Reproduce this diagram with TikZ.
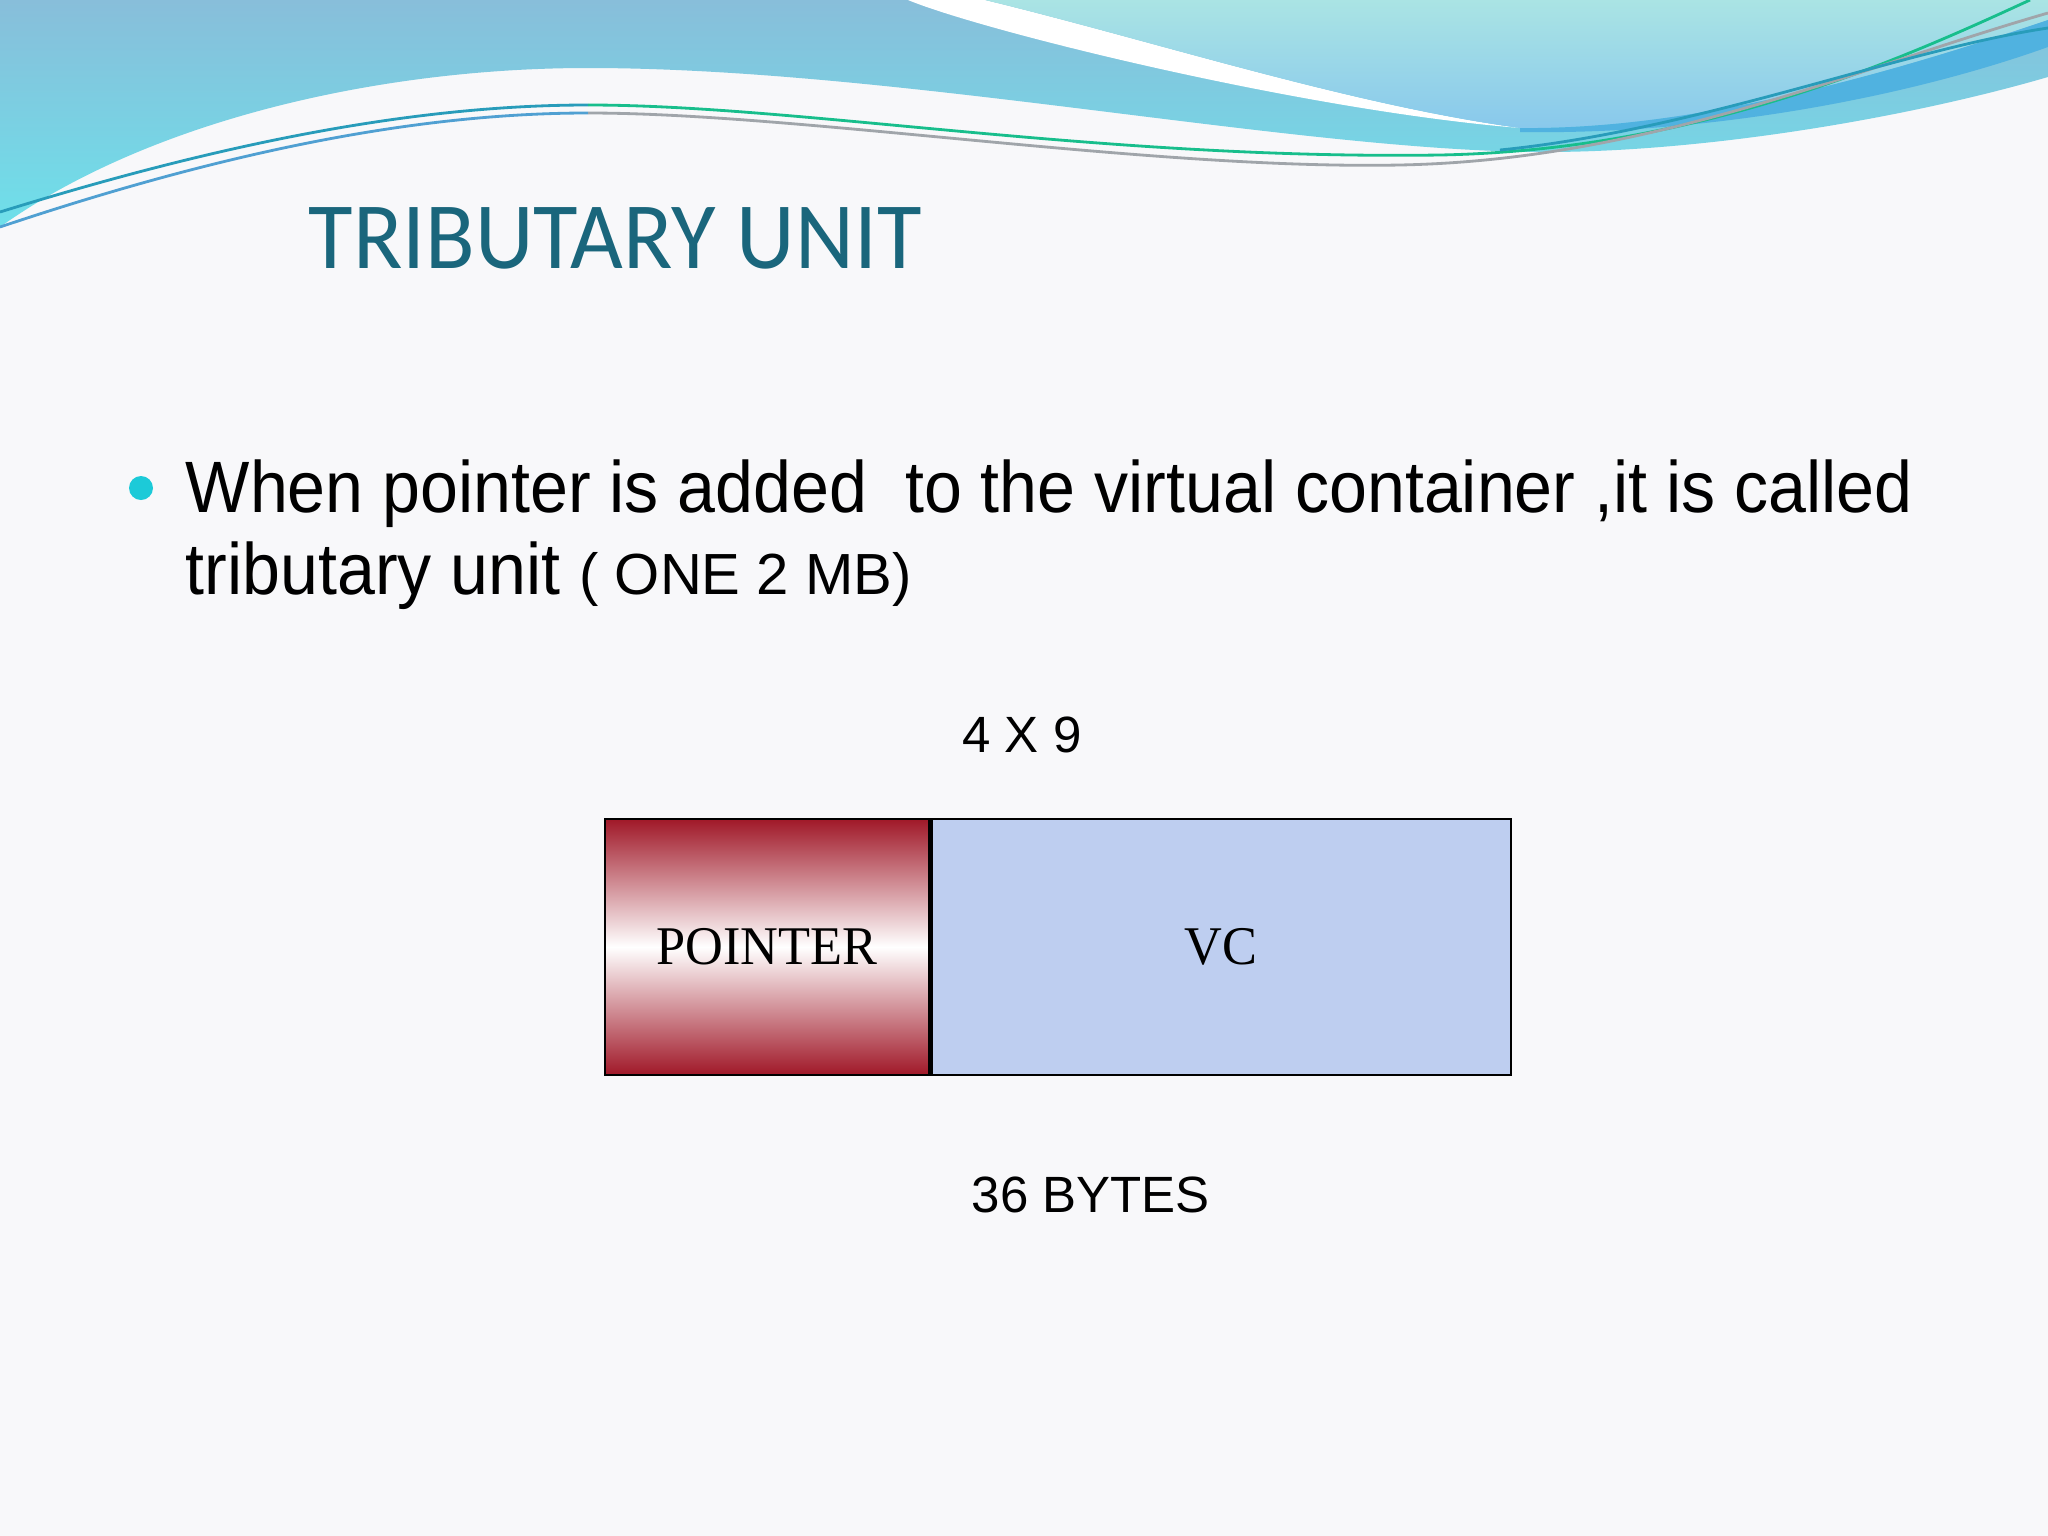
\documentclass[tikz,border=0pt]{standalone}
\usepackage{fontspec}
\setmainfont{Liberation Sans}
\newfontfamily\titlefont[FakeStretch=0.96]{Carlito}
\newfontfamily\bodyfont[FakeStretch=0.936]{Liberation Sans}
\newfontfamily\boxfont[FakeStretch=0.96]{Liberation Serif}
\usetikzlibrary{positioning}
\definecolor{slidebg}{RGB}{248, 248, 250}
\definecolor{wavetop}{RGB}{136, 190, 218}
\definecolor{wavelow}{RGB}{110, 224, 234}
\definecolor{paletop}{RGB}{170, 228, 228}
\definecolor{palelow}{RGB}{136, 200, 236}
\definecolor{waveband}{RGB}{80, 178, 224}
\definecolor{lineteal}{RGB}{40, 156, 186}
\definecolor{lineblue}{RGB}{80, 160, 210}
\definecolor{linegreen}{RGB}{24, 190, 140}
\definecolor{linegray}{RGB}{160, 165, 170}
\definecolor{titleteal}{RGB}{26, 102, 124}
\definecolor{bulletcyan}{RGB}{28, 202, 216}
\definecolor{ptrred}{RGB}{160, 24, 40}
\definecolor{vcblue}{RGB}{190, 206, 240}
\tikzset{
  wire/.style   = {line width=0.8pt},
  title/.style  = {anchor=base west, inner sep=0pt, text=titleteal, font=\titlefont\fontsize{27}{32}\selectfont},
  bodytxt/.style= {anchor=base west, inner sep=0pt, text=black, font=\bodyfont\fontsize{20.7}{25}\selectfont},
  small/.style  = {inner sep=0pt, text=black, font=\fontsize{14.5}{17}\selectfont},
  ptrbox/.style = {rectangle, draw=black, line width=0.7pt, top color=ptrred, bottom color=ptrred, middle color=white,
                   minimum width=3.24cm, minimum height=2.56cm, inner sep=0pt, font=\boxfont\fontsize{15.5}{18}\selectfont},
  vcbox/.style  = {rectangle, draw=black, line width=0.7pt, fill=vcblue,
                   minimum width=5.79cm, minimum height=2.56cm, inner sep=0pt, font=\boxfont\fontsize{15.5}{18}\selectfont}
}

\begin{document}
\begin{tikzpicture}[x=0.01cm, y=-0.01cm]

% slide background ========================
\useasboundingbox (0,0) rectangle (2048,1536);
\fill[slidebg] (0,0) rectangle (2048,1536);

% top wave
\shade[top color=wavetop, bottom color=wavelow]
  (0,0) -- (2048,0) -- (2048,77)
  .. controls (1900,120) and (1700,152) .. (1546,152)
  .. controls (1300,152) and (900,68) .. (588,68)
  .. controls (380,68) and (150,120) .. (0,227) -- cycle;
\fill[white] (908,0) .. controls (980,30) and (1300,110) .. (1520,128)
  .. controls (1350,105) and (1150,40) .. (985,0) -- cycle;
\shade[top color=paletop, bottom color=palelow]
  (985,0) .. controls (1150,40) and (1350,105) .. (1520,128)
  .. controls (1700,130) and (1900,70) .. (2048,20) -- (2048,0) -- cycle;
\fill[waveband] (1520,128) .. controls (1700,130) and (1900,70) .. (2048,20) -- (2048,47)
  .. controls (1900,100) and (1700,135) .. (1520,132) -- cycle;

% lines
\draw[wire, lineteal] (0,212) .. controls (200,150) and (400,105) .. (588,105);
\draw[wire, linegreen] (588,105) .. controls (800,105) and (1100,160) .. (1440,155)
  .. controls (1700,150) and (1900,60) .. (2030,0);
\draw[wire, lineblue] (0,227) .. controls (200,160) and (400,113) .. (588,113);
\draw[wire, linegray] (588,113) .. controls (800,113) and (1150,170) .. (1400,165)
  .. controls (1650,160) and (1850,70) .. (2048,13);
\draw[wire, lineteal] (1500,150) .. controls (1700,130) and (1900,50) .. (2048,28);

% texts
\node[title] (head) at (308,268) {TRIBUTARY UNIT};
\fill[bulletcyan] (141,488) circle (12);
\node[bodytxt] (line1) at (185,512) {When pointer is added\ \ to the virtual container ,it is called};
\node[bodytxt] (line2) at (185,594) {tributary unit {\fontspec{Liberation Sans}\fontsize{16.5}{20}\selectfont( ONE 2 MB)}};

% frame
\node[ptrbox] (ptr) at (767,947) {POINTER};
\node[vcbox, right=0pt of ptr] (vc) {VC};
\node[small] (dims) at (1022,735) {4 X 9};
\node[small] (bytes) at (1091,1195) {36 BYTES};

\end{tikzpicture}
\end{document}
